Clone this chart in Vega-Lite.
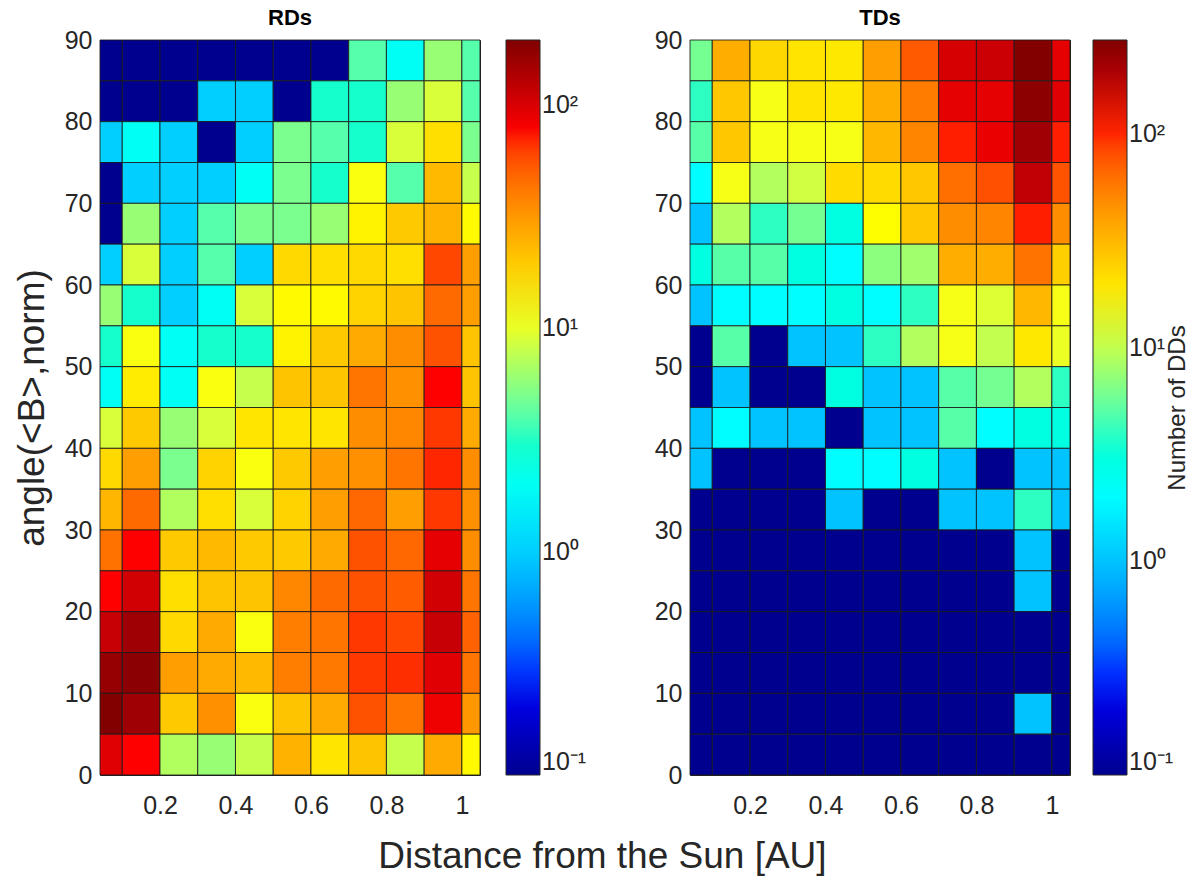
{
  "$schema": "https://vega.github.io/schema/vega-lite/v6.json",
  "background": "white",
  "padding": {"left": 12, "top": 6, "right": 6, "bottom": 6},
  "config": {
    "font": "Liberation Sans",
    "view": {"stroke": "#262626", "strokeWidth": 1},
    "axis": {"labelFontSize": 25, "labelColor": "#262626", "titleColor": "#262626", "titleFontWeight": "normal", "ticks": false, "grid": false, "domain": false, "labelPadding": 8},
    "title": {"fontSize": 22, "fontWeight": "bold", "color": "#000000", "offset": -2},
    "legend": {"gradientLength": 735, "gradientThickness": 34, "offset": 26, "padding": 0, "labelFontSize": 25, "labelColor": "#262626", "labelOffset": 10, "labelOverlap": false, "gradientStrokeColor": "#262626", "gradientStrokeWidth": 1},
    "concat": {"spacing": 65}
  },
  "title": {"text": "Distance from the Sun [AU]", "orient": "bottom", "anchor": "middle", "fontSize": 37, "fontWeight": "normal", "color": "#262626", "offset": 20},
  "datasets": {
    "bins": [
      {"c": 0, "d0": 0.041, "d1": 0.1}, {"c": 1, "d0": 0.1, "d1": 0.2}, {"c": 2, "d0": 0.2, "d1": 0.3},
      {"c": 3, "d0": 0.3, "d1": 0.4}, {"c": 4, "d0": 0.4, "d1": 0.5}, {"c": 5, "d0": 0.5, "d1": 0.6},
      {"c": 6, "d0": 0.6, "d1": 0.7}, {"c": 7, "d0": 0.7, "d1": 0.8}, {"c": 8, "d0": 0.8, "d1": 0.9},
      {"c": 9, "d0": 0.9, "d1": 1.0}, {"c": 10, "d0": 1.0, "d1": 1.048}
    ],
    "rows": [
      {"a": 0, "a1": 5}, {"a": 5, "a1": 10}, {"a": 10, "a1": 15}, {"a": 15, "a1": 20}, {"a": 20, "a1": 25},
      {"a": 25, "a1": 30}, {"a": 30, "a1": 35}, {"a": 35, "a1": 40}, {"a": 40, "a1": 45}, {"a": 45, "a1": 50},
      {"a": 50, "a1": 55}, {"a": 55, "a1": 60}, {"a": 60, "a1": 65}, {"a": 65, "a1": 70}, {"a": 70, "a1": 75},
      {"a": 75, "a1": 80}, {"a": 80, "a1": 85}, {"a": 85, "a1": 90}
    ],
    "rd": [
      {"c":0,"a":85,"n":0},{"c":1,"a":85,"n":0},{"c":2,"a":85,"n":0},{"c":3,"a":85,"n":0},{"c":4,"a":85,"n":0},{"c":5,"a":85,"n":0},{"c":6,"a":85,"n":0},{"c":7,"a":85,"n":4},{"c":8,"a":85,"n":2},{"c":9,"a":85,"n":6},{"c":10,"a":85,"n":4},
      {"c":0,"a":80,"n":0},{"c":1,"a":80,"n":0},{"c":2,"a":80,"n":0},{"c":3,"a":80,"n":1},{"c":4,"a":80,"n":1},{"c":5,"a":80,"n":0},{"c":6,"a":80,"n":3},{"c":7,"a":80,"n":3},{"c":8,"a":80,"n":6},{"c":9,"a":80,"n":9},{"c":10,"a":80,"n":4},
      {"c":0,"a":75,"n":1},{"c":1,"a":75,"n":2},{"c":2,"a":75,"n":1},{"c":3,"a":75,"n":0},{"c":4,"a":75,"n":1},{"c":5,"a":75,"n":5},{"c":6,"a":75,"n":4},{"c":7,"a":75,"n":3},{"c":8,"a":75,"n":9},{"c":9,"a":75,"n":16},{"c":10,"a":75,"n":5},
      {"c":0,"a":70,"n":0},{"c":1,"a":70,"n":1},{"c":2,"a":70,"n":1},{"c":3,"a":70,"n":1},{"c":4,"a":70,"n":2},{"c":5,"a":70,"n":5},{"c":6,"a":70,"n":3},{"c":7,"a":70,"n":11},{"c":8,"a":70,"n":4},{"c":9,"a":70,"n":23},{"c":10,"a":70,"n":8},
      {"c":0,"a":65,"n":0},{"c":1,"a":65,"n":6},{"c":2,"a":65,"n":1},{"c":3,"a":65,"n":4},{"c":4,"a":65,"n":5},{"c":5,"a":65,"n":5},{"c":6,"a":65,"n":6},{"c":7,"a":65,"n":13},{"c":8,"a":65,"n":20},{"c":9,"a":65,"n":25},{"c":10,"a":65,"n":12},
      {"c":0,"a":60,"n":1},{"c":1,"a":60,"n":9},{"c":2,"a":60,"n":1},{"c":3,"a":60,"n":4},{"c":4,"a":60,"n":1},{"c":5,"a":60,"n":17},{"c":6,"a":60,"n":16},{"c":7,"a":60,"n":17},{"c":8,"a":60,"n":16},{"c":9,"a":60,"n":60},{"c":10,"a":60,"n":30},
      {"c":0,"a":55,"n":6},{"c":1,"a":55,"n":3},{"c":2,"a":55,"n":1},{"c":3,"a":55,"n":2},{"c":4,"a":55,"n":9},{"c":5,"a":55,"n":12},{"c":6,"a":55,"n":12},{"c":7,"a":55,"n":18},{"c":8,"a":55,"n":21},{"c":9,"a":55,"n":47},{"c":10,"a":55,"n":30},
      {"c":0,"a":50,"n":3},{"c":1,"a":50,"n":11},{"c":2,"a":50,"n":2},{"c":3,"a":50,"n":3},{"c":4,"a":50,"n":3},{"c":5,"a":50,"n":13},{"c":6,"a":50,"n":20},{"c":7,"a":50,"n":27},{"c":8,"a":50,"n":35},{"c":9,"a":50,"n":56},{"c":10,"a":50,"n":21},
      {"c":0,"a":45,"n":2},{"c":1,"a":45,"n":14},{"c":2,"a":45,"n":2},{"c":3,"a":45,"n":11},{"c":4,"a":45,"n":8},{"c":5,"a":45,"n":21},{"c":6,"a":45,"n":21},{"c":7,"a":45,"n":43},{"c":8,"a":45,"n":34},{"c":9,"a":45,"n":76},{"c":10,"a":45,"n":21},
      {"c":0,"a":40,"n":9},{"c":1,"a":40,"n":20},{"c":2,"a":40,"n":6},{"c":3,"a":40,"n":9},{"c":4,"a":40,"n":15},{"c":5,"a":40,"n":15},{"c":6,"a":40,"n":15},{"c":7,"a":40,"n":35},{"c":8,"a":40,"n":37},{"c":9,"a":40,"n":65},{"c":10,"a":40,"n":27},
      {"c":0,"a":35,"n":17},{"c":1,"a":35,"n":30},{"c":2,"a":35,"n":5},{"c":3,"a":35,"n":18},{"c":4,"a":35,"n":11},{"c":5,"a":35,"n":20},{"c":6,"a":35,"n":30},{"c":7,"a":35,"n":34},{"c":8,"a":35,"n":43},{"c":9,"a":35,"n":70},{"c":10,"a":35,"n":35},
      {"c":0,"a":30,"n":24},{"c":1,"a":30,"n":47},{"c":2,"a":30,"n":7},{"c":3,"a":30,"n":16},{"c":4,"a":30,"n":9},{"c":5,"a":30,"n":18},{"c":6,"a":30,"n":30},{"c":7,"a":30,"n":48},{"c":8,"a":30,"n":30},{"c":9,"a":30,"n":65},{"c":10,"a":30,"n":34},
      {"c":0,"a":25,"n":44},{"c":1,"a":25,"n":76},{"c":2,"a":25,"n":20},{"c":3,"a":25,"n":23},{"c":4,"a":25,"n":20},{"c":5,"a":25,"n":20},{"c":6,"a":25,"n":27},{"c":7,"a":25,"n":56},{"c":8,"a":25,"n":48},{"c":9,"a":25,"n":90},{"c":10,"a":25,"n":35},
      {"c":0,"a":20,"n":76},{"c":1,"a":20,"n":107},{"c":2,"a":20,"n":16},{"c":3,"a":20,"n":21},{"c":4,"a":20,"n":21},{"c":5,"a":20,"n":37},{"c":6,"a":20,"n":47},{"c":7,"a":20,"n":56},{"c":8,"a":20,"n":52},{"c":9,"a":20,"n":107},{"c":10,"a":20,"n":43},
      {"c":0,"a":15,"n":115},{"c":1,"a":15,"n":155},{"c":2,"a":15,"n":17},{"c":3,"a":15,"n":27},{"c":4,"a":15,"n":11},{"c":5,"a":15,"n":40},{"c":6,"a":15,"n":43},{"c":7,"a":15,"n":65},{"c":8,"a":15,"n":60},{"c":9,"a":15,"n":115},{"c":10,"a":15,"n":50},
      {"c":0,"a":10,"n":165},{"c":1,"a":10,"n":180},{"c":2,"a":10,"n":30},{"c":3,"a":10,"n":27},{"c":4,"a":10,"n":23},{"c":5,"a":10,"n":40},{"c":6,"a":10,"n":42},{"c":7,"a":10,"n":65},{"c":8,"a":10,"n":68},{"c":9,"a":10,"n":95},{"c":10,"a":10,"n":43},
      {"c":0,"a":5,"n":192},{"c":1,"a":5,"n":155},{"c":2,"a":5,"n":20},{"c":3,"a":5,"n":34},{"c":4,"a":5,"n":11},{"c":5,"a":5,"n":21},{"c":6,"a":5,"n":27},{"c":7,"a":5,"n":56},{"c":8,"a":5,"n":43},{"c":9,"a":5,"n":85},{"c":10,"a":5,"n":32},
      {"c":0,"a":0,"n":95},{"c":1,"a":0,"n":76},{"c":2,"a":0,"n":7},{"c":3,"a":0,"n":6},{"c":4,"a":0,"n":8},{"c":5,"a":0,"n":25},{"c":6,"a":0,"n":15},{"c":7,"a":0,"n":21},{"c":8,"a":0,"n":8},{"c":9,"a":0,"n":27},{"c":10,"a":0,"n":12}
    ],
    "td": [
      {"c":0,"a":85,"n":6},{"c":1,"a":85,"n":35},{"c":2,"a":85,"n":23},{"c":3,"a":85,"n":20},{"c":4,"a":85,"n":19},{"c":5,"a":85,"n":41},{"c":6,"a":85,"n":74},{"c":7,"a":85,"n":145},{"c":8,"a":85,"n":158},{"c":9,"a":85,"n":270},{"c":10,"a":85,"n":130},
      {"c":0,"a":80,"n":4},{"c":1,"a":80,"n":27},{"c":2,"a":80,"n":14},{"c":3,"a":80,"n":20},{"c":4,"a":80,"n":19},{"c":5,"a":80,"n":35},{"c":6,"a":80,"n":56},{"c":7,"a":80,"n":130},{"c":8,"a":80,"n":130},{"c":9,"a":80,"n":250},{"c":10,"a":80,"n":135},
      {"c":0,"a":75,"n":5},{"c":1,"a":75,"n":27},{"c":2,"a":75,"n":14},{"c":3,"a":75,"n":14},{"c":4,"a":75,"n":14},{"c":5,"a":75,"n":32},{"c":6,"a":75,"n":52},{"c":7,"a":75,"n":102},{"c":8,"a":75,"n":125},{"c":9,"a":75,"n":215},{"c":10,"a":75,"n":102},
      {"c":0,"a":70,"n":2},{"c":1,"a":70,"n":14},{"c":2,"a":70,"n":9},{"c":3,"a":70,"n":11},{"c":4,"a":70,"n":22},{"c":5,"a":70,"n":22},{"c":6,"a":70,"n":27},{"c":7,"a":70,"n":63},{"c":8,"a":70,"n":80},{"c":9,"a":70,"n":170},{"c":10,"a":70,"n":78},
      {"c":0,"a":65,"n":1},{"c":1,"a":65,"n":9},{"c":2,"a":65,"n":4},{"c":3,"a":65,"n":6},{"c":4,"a":65,"n":3},{"c":5,"a":65,"n":15},{"c":6,"a":65,"n":27},{"c":7,"a":65,"n":48},{"c":8,"a":65,"n":52},{"c":9,"a":65,"n":102},{"c":10,"a":65,"n":48},
      {"c":0,"a":60,"n":3},{"c":1,"a":60,"n":5},{"c":2,"a":60,"n":5},{"c":3,"a":60,"n":3},{"c":4,"a":60,"n":2},{"c":5,"a":60,"n":7},{"c":6,"a":60,"n":8},{"c":7,"a":60,"n":35},{"c":8,"a":60,"n":35},{"c":9,"a":60,"n":60},{"c":10,"a":60,"n":25},
      {"c":0,"a":55,"n":1},{"c":1,"a":55,"n":2},{"c":2,"a":55,"n":2},{"c":3,"a":55,"n":2},{"c":4,"a":55,"n":3},{"c":5,"a":55,"n":2},{"c":6,"a":55,"n":4},{"c":7,"a":55,"n":14},{"c":8,"a":55,"n":12},{"c":9,"a":55,"n":32},{"c":10,"a":55,"n":14},
      {"c":0,"a":50,"n":0},{"c":1,"a":50,"n":5},{"c":2,"a":50,"n":0},{"c":3,"a":50,"n":1},{"c":4,"a":50,"n":1},{"c":5,"a":50,"n":4},{"c":6,"a":50,"n":9},{"c":7,"a":50,"n":14},{"c":8,"a":50,"n":10},{"c":9,"a":50,"n":19},{"c":10,"a":50,"n":13},
      {"c":0,"a":45,"n":0},{"c":1,"a":45,"n":1},{"c":2,"a":45,"n":0},{"c":3,"a":45,"n":0},{"c":4,"a":45,"n":3},{"c":5,"a":45,"n":1},{"c":6,"a":45,"n":1},{"c":7,"a":45,"n":5},{"c":8,"a":45,"n":6},{"c":9,"a":45,"n":9},{"c":10,"a":45,"n":4},
      {"c":0,"a":40,"n":1},{"c":1,"a":40,"n":2},{"c":2,"a":40,"n":1},{"c":3,"a":40,"n":1},{"c":4,"a":40,"n":0},{"c":5,"a":40,"n":1},{"c":6,"a":40,"n":1},{"c":7,"a":40,"n":5},{"c":8,"a":40,"n":2},{"c":9,"a":40,"n":3},{"c":10,"a":40,"n":3},
      {"c":0,"a":35,"n":1},{"c":1,"a":35,"n":0},{"c":2,"a":35,"n":0},{"c":3,"a":35,"n":0},{"c":4,"a":35,"n":2},{"c":5,"a":35,"n":2},{"c":6,"a":35,"n":3},{"c":7,"a":35,"n":1},{"c":8,"a":35,"n":0},{"c":9,"a":35,"n":1},{"c":10,"a":35,"n":1},
      {"c":0,"a":30,"n":0},{"c":1,"a":30,"n":0},{"c":2,"a":30,"n":0},{"c":3,"a":30,"n":0},{"c":4,"a":30,"n":1},{"c":5,"a":30,"n":0},{"c":6,"a":30,"n":0},{"c":7,"a":30,"n":1},{"c":8,"a":30,"n":1},{"c":9,"a":30,"n":4},{"c":10,"a":30,"n":1},
      {"c":0,"a":25,"n":0},{"c":1,"a":25,"n":0},{"c":2,"a":25,"n":0},{"c":3,"a":25,"n":0},{"c":4,"a":25,"n":0},{"c":5,"a":25,"n":0},{"c":6,"a":25,"n":0},{"c":7,"a":25,"n":0},{"c":8,"a":25,"n":0},{"c":9,"a":25,"n":1},{"c":10,"a":25,"n":0},
      {"c":0,"a":20,"n":0},{"c":1,"a":20,"n":0},{"c":2,"a":20,"n":0},{"c":3,"a":20,"n":0},{"c":4,"a":20,"n":0},{"c":5,"a":20,"n":0},{"c":6,"a":20,"n":0},{"c":7,"a":20,"n":0},{"c":8,"a":20,"n":0},{"c":9,"a":20,"n":1},{"c":10,"a":20,"n":0},
      {"c":0,"a":15,"n":0},{"c":1,"a":15,"n":0},{"c":2,"a":15,"n":0},{"c":3,"a":15,"n":0},{"c":4,"a":15,"n":0},{"c":5,"a":15,"n":0},{"c":6,"a":15,"n":0},{"c":7,"a":15,"n":0},{"c":8,"a":15,"n":0},{"c":9,"a":15,"n":0},{"c":10,"a":15,"n":0},
      {"c":0,"a":10,"n":0},{"c":1,"a":10,"n":0},{"c":2,"a":10,"n":0},{"c":3,"a":10,"n":0},{"c":4,"a":10,"n":0},{"c":5,"a":10,"n":0},{"c":6,"a":10,"n":0},{"c":7,"a":10,"n":0},{"c":8,"a":10,"n":0},{"c":9,"a":10,"n":0},{"c":10,"a":10,"n":0},
      {"c":0,"a":5,"n":0},{"c":1,"a":5,"n":0},{"c":2,"a":5,"n":0},{"c":3,"a":5,"n":0},{"c":4,"a":5,"n":0},{"c":5,"a":5,"n":0},{"c":6,"a":5,"n":0},{"c":7,"a":5,"n":0},{"c":8,"a":5,"n":0},{"c":9,"a":5,"n":1},{"c":10,"a":5,"n":0},
      {"c":0,"a":0,"n":0},{"c":1,"a":0,"n":0},{"c":2,"a":0,"n":0},{"c":3,"a":0,"n":0},{"c":4,"a":0,"n":0},{"c":5,"a":0,"n":0},{"c":6,"a":0,"n":0},{"c":7,"a":0,"n":0},{"c":8,"a":0,"n":0},{"c":9,"a":0,"n":0},{"c":10,"a":0,"n":0}
    ]
  },
  "hconcat": [
    {
      "title": "RDs",
      "width": 380,
      "height": 735,
      "data": {"name": "rd"},
      "transform": [
        {"lookup": "c", "from": {"data": {"name": "bins"}, "key": "c", "fields": ["d0", "d1"]}},
        {"lookup": "a", "from": {"data": {"name": "rows"}, "key": "a", "fields": ["a1"]}}
      ],
      "mark": {"type": "rect", "stroke": "#1a1a1a", "strokeWidth": 1, "strokeOpacity": 0.85},
      "encoding": {
        "x": {"field": "d0", "type": "quantitative", "scale": {"domain": [0.041, 1.048], "nice": false, "zero": false},
              "axis": {"values": [0.2, 0.4, 0.6, 0.8, 1], "format": ".1~f", "title": null, "labelPadding": 18}},
        "x2": {"field": "d1"},
        "y": {"field": "a", "type": "quantitative", "scale": {"domain": [0, 90], "nice": false},
              "axis": {"values": [0, 10, 20, 30, 40, 50, 60, 70, 80, 90], "title": "angle(<B>,norm)", "titleFontSize": 37, "titlePadding": 13}},
        "y2": {"field": "a1"},
        "color": {
          "field": "n", "type": "quantitative",
          "condition": {"test": "datum.n <= 0", "value": "#00008F"},
          "scale": {"type": "log", "domain": [0.1, 0.258, 1.717, 11.42, 76.0, 196], "range": ["#00008F", "#0000FF", "#00FFFF", "#FFFF00", "#FF0000", "#800000"]},
          "legend": {"title": null, "values": [0.1, 1, 10, 100], "labelBaseline": "middle",
                     "labelExpr": "datum.value < 0.5 ? '10⁻¹' : datum.value < 5 ? '10⁰' : datum.value < 50 ? '10¹' : '10²'"}
        }
      }
    },
    {
      "spacing": -10,
      "hconcat": [
        {
          "title": "TDs",
          "width": 380,
          "height": 735,
          "data": {"name": "td"},
          "transform": [
            {"lookup": "c", "from": {"data": {"name": "bins"}, "key": "c", "fields": ["d0", "d1"]}},
            {"lookup": "a", "from": {"data": {"name": "rows"}, "key": "a", "fields": ["a1"]}}
          ],
          "mark": {"type": "rect", "stroke": "#1a1a1a", "strokeWidth": 1, "strokeOpacity": 0.85},
          "encoding": {
            "x": {"field": "d0", "type": "quantitative", "scale": {"domain": [0.041, 1.048], "nice": false, "zero": false},
                  "axis": {"values": [0.2, 0.4, 0.6, 0.8, 1], "format": ".1~f", "title": null, "labelPadding": 18}},
            "x2": {"field": "d1"},
            "y": {"field": "a", "type": "quantitative", "scale": {"domain": [0, 90], "nice": false},
                  "axis": {"values": [0, 10, 20, 30, 40, 50, 60, 70, 80, 90], "title": null}},
            "y2": {"field": "a1"},
            "color": {
              "field": "n", "type": "quantitative",
              "condition": {"test": "datum.n <= 0", "value": "#00008F"},
              "scale": {"type": "log", "domain": [0.1, 0.269, 2.04, 14.83, 108.3, 276], "range": ["#00008F", "#0000FF", "#00FFFF", "#FFFF00", "#FF0000", "#800000"]},
              "legend": {"title": null, "values": [0.1, 1, 10, 100], "labelBaseline": "middle", "offset": 23,
                         "labelExpr": "datum.value < 0.5 ? '10⁻¹' : datum.value < 5 ? '10⁰' : datum.value < 50 ? '10¹' : '10²'"}
            }
          }
        },
        {
          "width": 1,
          "height": 735,
          "view": {"stroke": null},
          "data": {"name": "rows"},
          "mark": {"type": "point", "opacity": 0},
          "encoding": {
            "y": {"field": "a", "type": "quantitative", "scale": {"domain": [0, 90], "nice": false},
                  "axis": {"title": "Number of DDs", "labels": false, "ticks": false, "domain": false, "grid": false, "titleFontSize": 24, "titlePadding": 0, "titleColor": "#262626"}}
          }
        }
      ],
      "resolve": {"scale": {"color": "independent", "y": "independent"}, "legend": {"color": "independent"}}
    }
  ],
  "resolve": {"scale": {"color": "independent"}, "legend": {"color": "independent"}}
}
